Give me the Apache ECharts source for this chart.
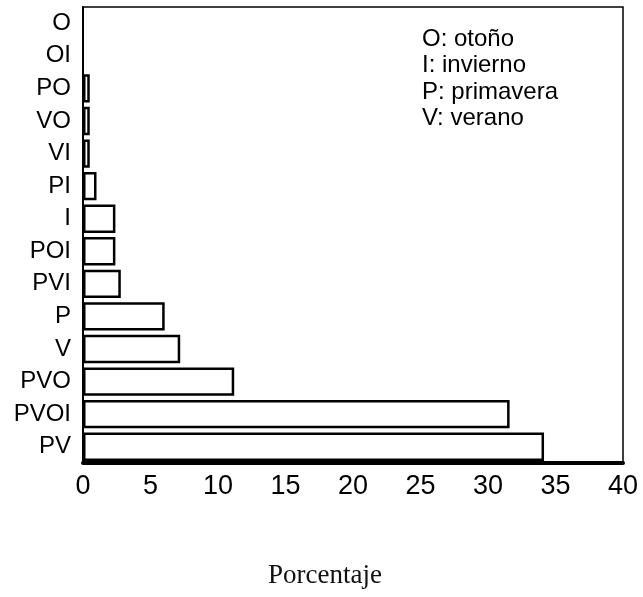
<!DOCTYPE html>
<html>
<head>
<meta charset="utf-8">
<script src="https://cdn.jsdelivr.net/npm/echarts@6/dist/echarts.min.js"></script>
<style>
  html, body { margin: 0; padding: 0; background: #fff; }
  #chart { width: 643px; height: 597px; }
</style>
</head>
<body>
<div id="chart"></div>
<script>
// Season combinations, listed top to bottom
const categories = ['O', 'OI', 'PO', 'VO', 'VI', 'PI', 'I', 'POI', 'PVI', 'P', 'V', 'PVO', 'PVOI', 'PV'];
// Percentage for each combination
const percentages = [0, 0, 0.5, 0.5, 0.5, 1.0, 2.4, 2.4, 2.8, 6.05, 7.2, 11.2, 31.6, 34.15];
// Horizontal axis range and step
const xMin = 0, xMax = 40, xStep = 5;
// Key for the season letters
const legendLines = ['O: otoño', 'I: invierno', 'P: primavera', 'V: verano'];
const xAxisTitle = 'Porcentaje';

const chart = echarts.init(document.getElementById('chart'), null, { renderer: 'canvas' });
const sans = '"Liberation Sans", Arial, sans-serif';

// Zero-valued combinations get no outline at all
const barData = percentages.map(v => v === 0
  ? { value: v, itemStyle: { borderWidth: 0 } }
  : v);

chart.setOption({
  backgroundColor: '#fff',
  animation: false,
  grid: {
    left: 83, right: 20, top: 7, bottom: 134,
    show: true, borderColor: '#000', borderWidth: 1.5, backgroundColor: 'transparent'
  },
  xAxis: {
    type: 'value', min: xMin, max: xMax, interval: xStep,
    axisLine: { show: true, lineStyle: { color: '#000', width: 4 } },
    axisTick: { show: false },
    splitLine: { show: false },
    axisLabel: { color: '#000', fontFamily: sans, fontSize: 27, margin: 10 }
  },
  yAxis: {
    type: 'category', data: categories, inverse: true,
    axisLine: { show: true, lineStyle: { color: '#000', width: 2 } },
    axisTick: { show: false },
    axisLabel: { color: '#000', fontFamily: sans, fontSize: 24, margin: 12 }
  },
  series: [{
    type: 'bar',
    data: barData,
    barWidth: '87%',
    itemStyle: { color: '#fff', borderColor: '#000', borderWidth: 2.5 },
    emphasis: { disabled: true }
  }],
  graphic: [
    {
      type: 'text', left: 422, top: 26,
      style: {
        text: legendLines.join('\n'), fill: '#000',
        font: '24px ' + sans, lineHeight: 26.5
      }
    },
    {
      type: 'text', left: 268, top: 562,
      style: {
        text: xAxisTitle, fill: '#111',
        font: '27px "Liberation Serif", "Times New Roman", serif'
      }
    }
  ]
});
</script>
</body>
</html>
